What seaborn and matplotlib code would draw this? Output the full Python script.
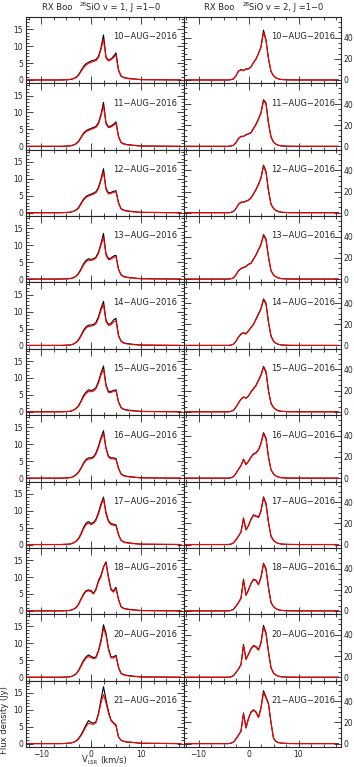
import matplotlib
matplotlib.use('Agg')
import matplotlib.pyplot as plt
import seaborn as sns
from matplotlib.ticker import MultipleLocator

# velocity channels (km/s) shared by all spectra
velocity = [-13, -6, -4.5, -4, -3.5, -3, -2.5, -2, -1.5, -1, -0.5, 0, 0.5, 1, 1.5,
            2, 2.5, 3, 3.5, 4, 4.5, 5, 5.5, 6, 6.5, 7, 8, 10, 18]

dates = ['10', '11', '12', '13', '14', '15', '16', '17', '18', '20', '21']

# 28SiO v=1, J=1-0 (Jy)
v1_black = [
    [0, 0, 0.1, 0.2, 0.4, 0.8, 1.5, 2.8, 4.0, 4.8, 5.2, 5.6, 5.8, 6.0, 7.0, 9.5, 13.3, 6.8, 5.8, 6.2, 7.0, 8.0, 3.0, 1.2, 0.8, 0.6, 0.4, 0.1, 0],
    [0, 0, 0.1, 0.2, 0.4, 0.8, 1.5, 2.7, 3.9, 4.6, 5.0, 5.3, 5.6, 5.9, 7.0, 9.5, 13.0, 7.0, 5.8, 6.0, 6.5, 7.2, 3.0, 1.2, 0.8, 0.6, 0.4, 0.1, 0],
    [0, 0, 0.1, 0.2, 0.4, 0.8, 1.5, 2.8, 4.0, 4.8, 5.2, 5.5, 5.8, 6.2, 7.5, 10.0, 13.0, 7.2, 5.8, 6.0, 6.3, 6.5, 3.0, 1.2, 0.8, 0.6, 0.4, 0.1, 0],
    [0, 0, 0.1, 0.2, 0.4, 0.9, 1.7, 3.0, 4.5, 5.5, 6.0, 5.8, 6.0, 6.5, 8.0, 10.5, 13.5, 7.5, 6.0, 6.2, 6.8, 7.0, 3.0, 1.3, 0.8, 0.6, 0.4, 0.1, 0],
    [0, 0, 0.1, 0.2, 0.4, 0.9, 1.7, 3.0, 4.5, 5.5, 6.0, 6.0, 6.2, 6.8, 8.5, 11.0, 13.0, 7.5, 6.2, 6.5, 7.5, 8.0, 3.0, 1.3, 0.8, 0.6, 0.4, 0.1, 0],
    [0, 0, 0.1, 0.2, 0.5, 1.0, 1.8, 3.2, 4.8, 5.8, 6.5, 6.3, 6.5, 7.2, 9.0, 11.5, 13.5, 8.0, 6.0, 6.0, 6.3, 6.5, 3.0, 1.3, 0.8, 0.6, 0.4, 0.1, 0],
    [0, 0, 0.1, 0.2, 0.5, 1.0, 1.8, 3.0, 4.5, 5.5, 6.0, 6.0, 6.3, 7.5, 9.5, 12.0, 14.0, 9.0, 6.5, 6.0, 6.0, 5.8, 3.0, 1.3, 0.8, 0.6, 0.4, 0.1, 0],
    [0, 0, 0.1, 0.2, 0.5, 1.0, 1.8, 3.2, 5.0, 6.3, 6.8, 6.2, 6.5, 7.5, 9.5, 12.0, 14.0, 9.5, 7.0, 6.2, 6.0, 5.8, 3.0, 1.3, 0.8, 0.6, 0.4, 0.1, 0],
    [0, 0, 0.1, 0.2, 0.5, 1.0, 2.0, 3.5, 5.0, 6.0, 6.2, 6.0, 5.2, 6.5, 9.0, 10.5, 13.0, 14.5, 10.0, 6.5, 5.8, 7.0, 3.5, 1.3, 0.8, 0.6, 0.4, 0.1, 0],
    [0, 0, 0.1, 0.2, 0.5, 1.0, 2.0, 3.5, 5.0, 6.0, 6.6, 6.2, 5.8, 6.0, 8.0, 11.0, 15.5, 13.0, 8.5, 6.0, 6.0, 6.5, 3.0, 1.2, 0.8, 0.6, 0.4, 0.1, 0],
    [0, 0, 0.1, 0.2, 0.4, 0.8, 1.5, 2.6, 4.0, 5.5, 6.8, 6.3, 6.0, 6.5, 9.0, 13.0, 16.8, 13.0, 9.5, 7.0, 6.2, 5.5, 2.0, 1.0, 0.7, 0.5, 0.4, 0.1, 0],
]
v1_red = [
    [0, 0, 0.1, 0.2, 0.4, 0.7, 1.3, 2.5, 3.6, 4.4, 4.9, 5.2, 5.5, 5.7, 6.6, 9.0, 12.0, 6.5, 5.6, 6.0, 6.6, 7.4, 2.8, 1.1, 0.7, 0.5, 0.3, 0.1, 0],
    [0, 0, 0.1, 0.2, 0.4, 0.7, 1.3, 2.5, 3.6, 4.3, 4.7, 5.0, 5.3, 5.6, 6.6, 9.0, 12.0, 6.6, 5.5, 5.7, 6.2, 6.8, 2.8, 1.1, 0.7, 0.5, 0.3, 0.1, 0],
    [0, 0, 0.1, 0.2, 0.4, 0.7, 1.3, 2.5, 3.7, 4.5, 4.9, 5.2, 5.5, 5.9, 7.1, 9.5, 12.0, 6.8, 5.5, 5.7, 6.0, 6.2, 2.8, 1.1, 0.7, 0.5, 0.3, 0.1, 0],
    [0, 0, 0.1, 0.2, 0.4, 0.8, 1.5, 2.7, 4.1, 5.1, 5.6, 5.5, 5.7, 6.2, 7.6, 10.0, 12.3, 7.1, 5.7, 5.9, 6.4, 6.6, 2.8, 1.2, 0.7, 0.5, 0.3, 0.1, 0],
    [0, 0, 0.1, 0.2, 0.4, 0.8, 1.5, 2.7, 4.1, 5.1, 5.6, 5.7, 5.9, 6.4, 8.0, 10.4, 12.0, 7.1, 5.9, 6.1, 6.9, 7.2, 2.8, 1.2, 0.7, 0.5, 0.3, 0.1, 0],
    [0, 0, 0.1, 0.2, 0.5, 0.9, 1.6, 2.9, 4.4, 5.4, 6.0, 5.9, 6.1, 6.8, 8.5, 10.9, 12.5, 7.6, 5.7, 5.7, 6.0, 6.2, 2.8, 1.2, 0.7, 0.5, 0.3, 0.1, 0],
    [0, 0, 0.1, 0.2, 0.5, 0.9, 1.6, 2.8, 4.2, 5.2, 5.6, 5.7, 6.0, 7.1, 9.0, 11.4, 13.2, 8.6, 6.2, 5.7, 5.7, 5.5, 2.8, 1.2, 0.7, 0.5, 0.3, 0.1, 0],
    [0, 0, 0.1, 0.2, 0.5, 0.9, 1.6, 2.9, 4.6, 5.8, 6.3, 5.9, 6.2, 7.1, 9.0, 11.4, 13.5, 9.0, 6.7, 5.9, 5.7, 5.5, 2.8, 1.2, 0.7, 0.5, 0.3, 0.1, 0],
    [0, 0, 0.1, 0.2, 0.5, 0.9, 1.8, 3.3, 4.7, 5.7, 5.9, 5.7, 5.0, 6.2, 8.6, 10.0, 12.8, 14.2, 9.6, 6.2, 5.5, 6.6, 3.3, 1.2, 0.7, 0.5, 0.3, 0.1, 0],
    [0, 0, 0.1, 0.2, 0.5, 0.9, 1.8, 3.2, 4.6, 5.6, 6.1, 5.8, 5.5, 5.7, 7.6, 10.4, 14.5, 12.3, 8.1, 5.7, 5.7, 6.2, 2.8, 1.1, 0.7, 0.5, 0.3, 0.1, 0],
    [0, 0, 0.1, 0.2, 0.4, 0.7, 1.3, 2.3, 3.6, 5.0, 6.0, 5.8, 5.7, 6.2, 8.6, 12.0, 14.5, 12.0, 9.0, 6.8, 6.0, 5.2, 2.0, 1.0, 0.7, 0.5, 0.4, 0.1, 0],
]

# 28SiO v=2, J=1-0 (Jy)
v2_black = [
    [0, 0, 0, 0, 0.3, 1.0, 4.0, 8.5, 9.8, 9.0, 10.5, 10.5, 12.5, 16.5, 20, 25, 31.5, 47, 38, 20, 8, 4, 2, 1, 0.5, 0.3, 0.1, 0, 0],
    [0, 0, 0, 0, 0.3, 1.0, 3.5, 7.5, 9.5, 9.5, 11, 12, 13, 17, 21, 26, 32, 44, 41, 22, 9, 4, 2, 1, 0.5, 0.3, 0.1, 0, 0],
    [0, 0, 0, 0, 0.3, 1.2, 4.0, 8.0, 10, 10, 11, 12, 14, 18, 22, 27, 33, 45, 39, 21, 8, 4, 2, 1, 0.5, 0.3, 0.1, 0, 0],
    [0, 0, 0, 0, 0.3, 1.2, 4.0, 8.0, 10, 11, 12, 14, 15, 19, 23, 28, 33, 42, 38, 21, 8, 4, 2, 1, 0.5, 0.3, 0.1, 0, 0],
    [0, 0, 0, 0, 0.3, 1.2, 4.0, 8.0, 11, 12, 11, 14, 17, 20, 25, 30, 35, 44, 40, 22, 9, 4, 2, 1, 0.5, 0.3, 0.1, 0, 0],
    [0, 0, 0, 0, 0.4, 1.5, 4.5, 8.5, 12, 14, 13, 15, 19, 22, 25, 30, 35, 43, 38, 20, 8, 4, 2, 1, 0.5, 0.3, 0.1, 0, 0],
    [0, 0, 0, 0, 0.4, 1.5, 4.5, 8.5, 12, 18, 13, 16, 20, 23, 24, 27, 33, 43, 38, 20, 8, 4, 2, 1, 0.5, 0.3, 0.1, 0, 0],
    [0, 0, 0, 0, 0.4, 1.5, 4.5, 8.0, 12, 25, 14, 18, 24, 28, 27, 26, 32, 45, 39, 21, 8, 4, 2, 1, 0.5, 0.3, 0.1, 0, 0],
    [0, 0, 0, 0, 0.4, 1.5, 4.5, 8.0, 12, 30, 15, 20, 26, 30, 29, 25, 32, 45, 40, 22, 8, 4, 2, 1, 0.5, 0.3, 0.1, 0, 0],
    [0, 0, 0, 0, 0.4, 1.5, 4.5, 8.0, 12, 31, 17, 22, 27, 30, 29, 26, 33, 49, 42, 24, 9, 4, 2, 1, 0.5, 0.3, 0.1, 0, 0],
    [0, 0, 0, 0, 0.4, 1.5, 4.5, 8.0, 12, 29, 15, 24, 30, 32, 30, 25, 34, 50, 44, 38, 20, 5, 2, 1, 0.5, 0.3, 0.1, 0, 0],
]
v2_red = [
    [0, 0, 0, 0, 0.3, 1.0, 4.0, 8.3, 9.5, 8.8, 10.2, 10.5, 12.2, 16.2, 19.5, 25, 31, 45, 37, 20, 8, 4, 2, 1, 0.5, 0.3, 0.1, 0, 0],
    [0, 0, 0, 0, 0.3, 1.0, 3.4, 7.3, 9.2, 9.3, 10.7, 11.7, 12.7, 16.6, 20.5, 25.5, 31.3, 43, 40, 21.5, 8.8, 4, 2, 1, 0.5, 0.3, 0.1, 0, 0],
    [0, 0, 0, 0, 0.3, 1.2, 3.9, 7.8, 9.7, 9.8, 10.7, 11.7, 13.7, 17.6, 21.5, 26.5, 32.4, 44, 38, 20.5, 7.8, 4, 2, 1, 0.5, 0.3, 0.1, 0, 0],
    [0, 0, 0, 0, 0.3, 1.2, 3.9, 7.8, 9.7, 10.7, 11.7, 13.7, 14.7, 18.6, 22.5, 27.4, 32.4, 41, 37, 20.5, 7.8, 4, 2, 1, 0.5, 0.3, 0.1, 0, 0],
    [0, 0, 0, 0, 0.3, 1.2, 3.9, 7.8, 10.7, 11.7, 10.8, 13.7, 16.6, 19.6, 24.5, 29.4, 34.3, 43, 39, 21.5, 8.8, 4, 2, 1, 0.5, 0.3, 0.1, 0, 0],
    [0, 0, 0, 0, 0.4, 1.5, 4.4, 8.3, 11.7, 13.7, 12.7, 14.7, 18.6, 21.5, 24.5, 29.4, 34.3, 42, 37, 19.6, 7.8, 4, 2, 1, 0.5, 0.3, 0.1, 0, 0],
    [0, 0, 0, 0, 0.4, 1.5, 4.4, 8.3, 11.7, 17.5, 12.7, 15.7, 19.6, 22.5, 23.5, 26.5, 32.4, 42, 37, 19.6, 7.8, 4, 2, 1, 0.5, 0.3, 0.1, 0, 0],
    [0, 0, 0, 0, 0.4, 1.5, 4.4, 7.8, 11.7, 24, 13.7, 17.6, 23.5, 27.4, 26.5, 25.5, 31.4, 44, 38, 20.5, 7.8, 4, 2, 1, 0.5, 0.3, 0.1, 0, 0],
    [0, 0, 0, 0, 0.4, 1.5, 4.4, 7.8, 11.7, 29, 14.7, 19.6, 25.5, 29.4, 28.4, 24.5, 31.4, 44, 39, 21.5, 7.8, 4, 2, 1, 0.5, 0.3, 0.1, 0, 0],
    [0, 0, 0, 0, 0.4, 1.5, 4.4, 7.8, 11.7, 30, 16.7, 21.5, 26.5, 29.4, 28.4, 25.5, 32.3, 47, 41, 23.5, 8.8, 4, 2, 1, 0.5, 0.3, 0.1, 0, 0],
    [0, 0, 0, 0, 0.4, 1.5, 4.4, 7.8, 11.7, 28, 14.7, 23.5, 29.4, 31.4, 29.4, 24.5, 33.3, 48, 43, 37, 19.6, 5, 2, 1, 0.5, 0.3, 0.1, 0, 0],
]

sns.set_style('ticks')
plt.rcParams['font.family'] = ['DejaVu Sans']

W, H = 354, 767
fig, axes = plt.subplots(11, 2, figsize=(W / 100, H / 100), dpi=100, sharex=True)
fig.subplots_adjust(left=26 / W, right=341 / W, top=1 - 17 / H, bottom=1 - 747 / H,
                    wspace=0, hspace=0)

columns = [(v1_black, v1_red, (-1.0, 18.6), 5, 1),
           (v2_black, v2_red, (-3.2, 59.5), 20, 5)]

for i, date in enumerate(dates):
    for j, (blk, red, ylim, major, minor) in enumerate(columns):
        ax = axes[i, j]
        sns.lineplot(x=velocity, y=blk[i], ax=ax, color='black', linewidth=0.8,
                     sort=False, estimator=None)
        sns.lineplot(x=velocity, y=red[i], ax=ax, color='#ff0000', linewidth=0.8,
                     sort=False, estimator=None)
        ax.set_xlim(-13, 18.5)
        ax.set_ylim(*ylim)
        ax.xaxis.set_major_locator(MultipleLocator(10))
        ax.xaxis.set_minor_locator(MultipleLocator(2.5))
        ax.yaxis.set_major_locator(MultipleLocator(major))
        ax.yaxis.set_minor_locator(MultipleLocator(minor))
        ax.tick_params(which='both', direction='in', top=True, bottom=True,
                       left=True, right=True, width=0.6, labelsize=5.5, pad=2)
        ax.tick_params(which='major', length=5)
        ax.tick_params(which='minor', length=2.5)
        ax.tick_params(axis='y', labelleft=(j == 0), labelright=(j == 1))
        ax.tick_params(axis='x', labelbottom=(i == 10))
        ax.set_xlabel('')
        ax.set_ylabel('')
        for sp in ax.spines.values():
            sp.set_linewidth(0.8)
        ax.text(0.962, 0.70, f'{date}\u2212AUG\u22122016', transform=ax.transAxes,
                ha='right', va='center', fontsize=6)

# titles
fig.text(42 / W, 1 - 8 / H, 'RX Boo', fontsize=6, va='center')
fig.text(80 / W, 1 - 4 / H, '28', fontsize=4, va='center')
fig.text(86 / W, 1 - 8 / H, 'SiO v = 1, J =1\u22120', fontsize=6, va='center')
fig.text(204 / W, 1 - 8 / H, 'RX Boo', fontsize=6, va='center')
fig.text(243 / W, 1 - 4 / H, '28', fontsize=4, va='center')
fig.text(249 / W, 1 - 8 / H, 'SiO v = 2, J =1\u22120', fontsize=6, va='center')

# axis labels
fig.text(5 / W, 1 - 720 / H, 'Flux density (Jy)', rotation=90, fontsize=6,
         ha='center', va='center')
fig.text(82 / W, 1 - 760 / H, 'V', fontsize=6, va='center')
fig.text(88 / W, 1 - 762 / H, 'LSR', fontsize=4, va='center')
fig.text(100 / W, 1 - 760 / H, '(km/s)', fontsize=6, va='center')

fig.savefig('out.png', dpi=100)
